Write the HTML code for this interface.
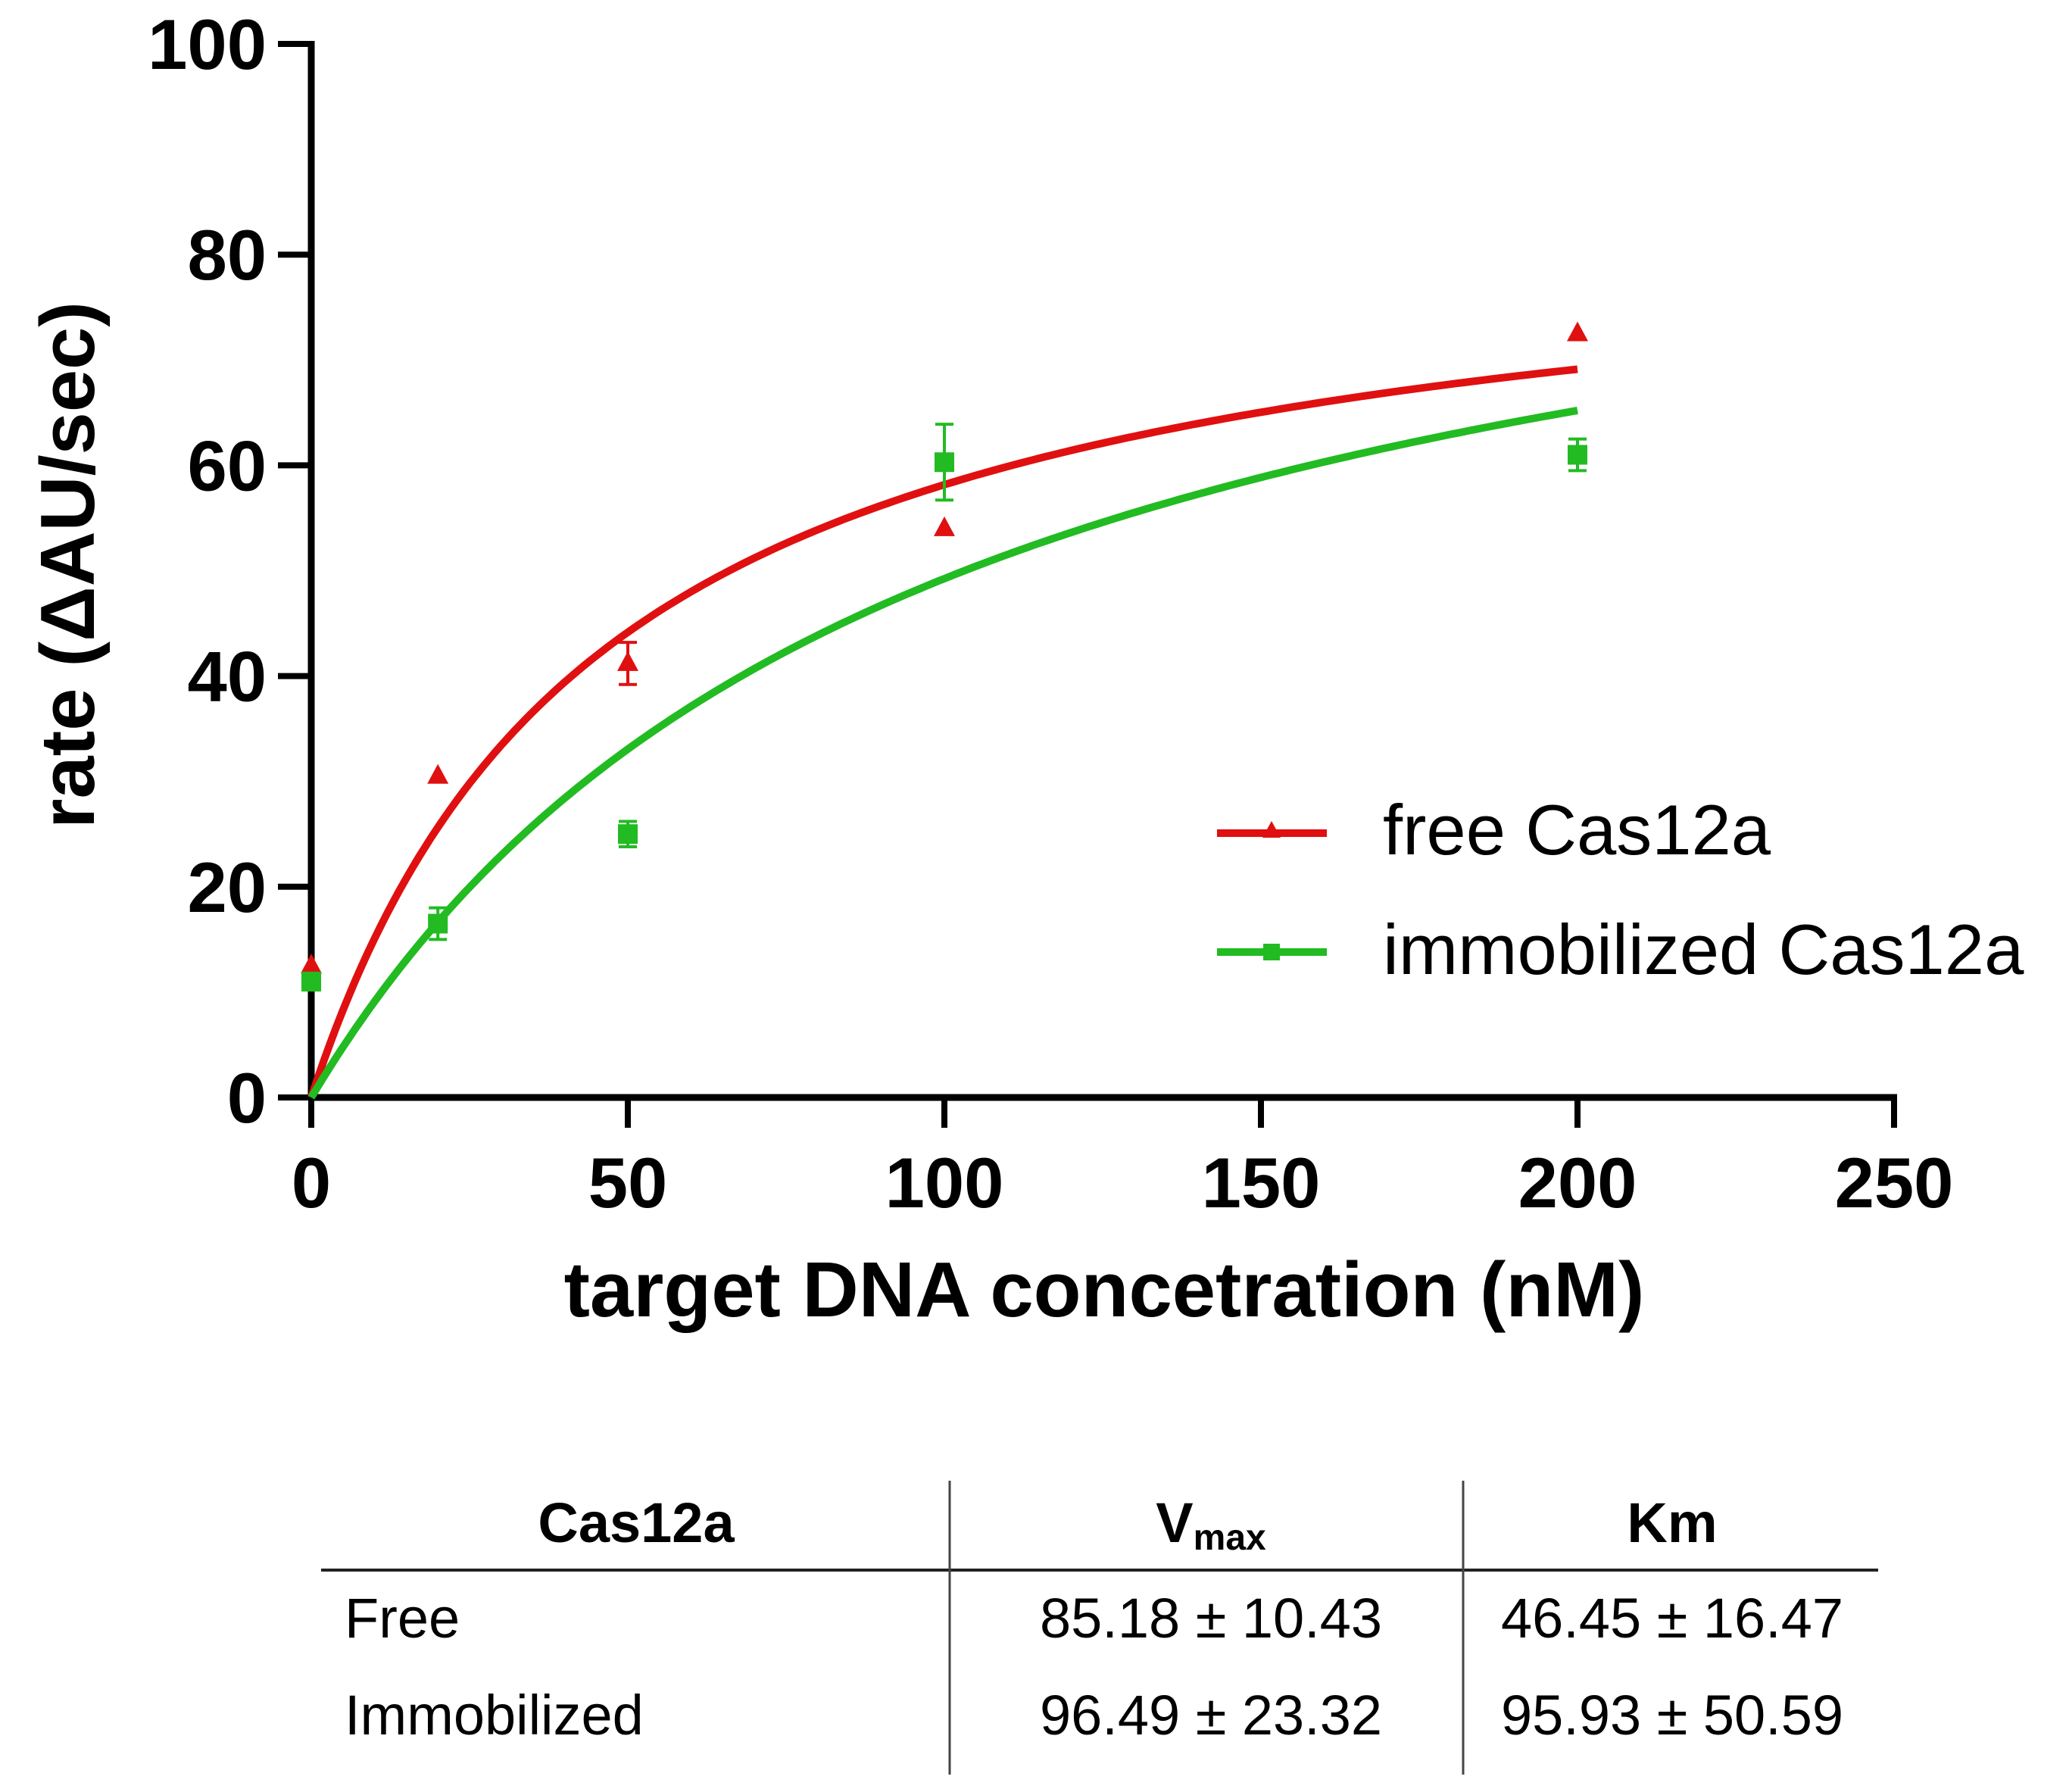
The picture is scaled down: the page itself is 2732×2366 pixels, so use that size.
<!DOCTYPE html>
<html><head><meta charset="utf-8"><style>
html,body{margin:0;padding:0;background:#fff}
svg{display:block}
text{font-family:"Liberation Sans",Arial,sans-serif}
</style></head><body>
<svg id="chart" width="2732" height="2366" viewBox="0 0 2732 2366" xmlns="http://www.w3.org/2000/svg">
<g id="axes"></g>
<g id="curves"></g>
<g id="points"></g>
<text x="1458" y="1738" font-size="103" font-weight="bold" text-anchor="middle">target DNA concetration (nM)</text>
<text transform="translate(124,746) rotate(-90)" font-size="101" font-weight="bold" text-anchor="middle">rate (ΔAU/sec)</text>
<g>
  <g>
    <line x1="1607" y1="1100" x2="1752" y2="1100" stroke="#e01010" stroke-width="10"/>
    <polygon points="1679,1084 1691,1106 1667,1106" fill="#e01010"/>
    <text x="1826" y="1128" font-size="94">free Cas12a</text>
  </g>
  <g>
    <line x1="1607" y1="1257" x2="1752" y2="1257" stroke="#22bb22" stroke-width="10"/>
    <rect x="1668" y="1246" width="22" height="22" fill="#22bb22"/>
    <text x="1826" y="1286" font-size="94">immobilized Cas12a</text>
  </g>
</g>
<g font-size="74">
  <line x1="424" y1="2084" x2="2480" y2="2084" stroke="#222" stroke-width="4" transform="translate(0,-11)"/>
  <line x1="1254" y1="1955" x2="1254" y2="2343" stroke="#444" stroke-width="3"/>
  <line x1="1932" y1="1955" x2="1932" y2="2343" stroke="#444" stroke-width="3"/>
  <text x="840" y="2048" font-weight="bold" text-anchor="middle" transform="translate(0,-12)">Cas12a</text>
  <text x="1599" y="2036" font-weight="bold" text-anchor="middle">V<tspan font-size="48" dy="10">max</tspan></text>
  <text x="2208" y="2036" font-weight="bold" text-anchor="middle">Km</text>
  <text x="455" y="2162">Free</text>
  <text x="1599" y="2162" text-anchor="middle">85.18 ± 10.43</text>
  <text x="2208" y="2162" text-anchor="middle">46.45 ± 16.47</text>
  <text x="455" y="2290">Immobilized</text>
  <text x="1599" y="2290" text-anchor="middle">96.49 ± 23.32</text>
  <text x="2208" y="2290" text-anchor="middle">95.93 ± 50.59</text>
</g>
</svg>
<script>
const xTicks = [0, 50, 100, 150, 200, 250];
const yTicks = [0, 20, 40, 60, 80, 100];
const concentrations = [0, 20, 50, 100, 200];
const freeRates = [12.5, 30.5, 41.2, 54, 72.5];
const freeErr = [0, 0, 2, 0, 0];
const immRates = [11, 16.5, 25, 60.3, 61];
const immErr = [0.8, 1.5, 1.2, 3.6, 1.5];
const freeFit = [85.18, 46.45];
const immFit = [96.49, 95.93];

const NS = "http://www.w3.org/2000/svg";
const X0 = 411, X1 = 2501, Y0 = 1449, Y1 = 58;
function sx(v){ return X0 + (v - 0) / 250 * (X1 - X0); }
function sy(v){ return Y0 - v / 100 * (Y0 - Y1); }
function mk(tag, attrs, parent){
  const e = document.createElementNS(NS, tag);
  for (const k in attrs) e.setAttribute(k, attrs[k]);
  parent.appendChild(e); return e;
}
const axes = document.getElementById('axes');
let el = mk('line', {x1:X0, y1:Y0, x2:X0, y2:Y1-4, stroke:'#000','stroke-width':9}, axes);


el = mk('line', {x1:X0-4, y1:Y0, x2:X1+4, y2:Y0, stroke:'#000','stroke-width':9}, axes);


yTicks.forEach(t => {
  const y = sy(t);
  const tk = mk('line', {x1:X0-44, y1:y, x2:X0, y2:y, stroke:'#000','stroke-width':8}, axes);
  
  
  const lb = mk('text', {x:352, y:y+33, 'font-size':94, 'font-weight':'bold', 'text-anchor':'end'}, axes);
  lb.textContent = t;
  
  
});
xTicks.forEach(t => {
  const x = sx(t);
  const tk = mk('line', {x1:x, y1:Y0, x2:x, y2:Y0+40, stroke:'#000','stroke-width':8}, axes);
  
  
  const lb = mk('text', {x:x, y:1594, 'font-size':94, 'font-weight':'bold', 'text-anchor':'middle'}, axes);
  lb.textContent = t;
  
  
});
const curves = document.getElementById('curves');
function curve(fit, color, name){
  let d = '';
  for (let i = 0; i <= 200; i++){
    const c = i;
    const v = fit[0] * c / (fit[1] + c);
    d += (i ? 'L' : 'M') + sx(c).toFixed(1) + ',' + sy(v).toFixed(1);
  }
  const p = mk('path', {d:d, fill:'none', stroke:color, 'stroke-width':10}, curves);
  
  
}
curve(freeFit, '#e01010', 'free-fit-curve');
curve(immFit, '#22bb22', 'immobilized-fit-curve');
const pts = document.getElementById('points');
function errbar(x, v, e, color){
  if (!e) return;
  const g = mk('g', {stroke:color, 'stroke-width':4}, pts);
  
  
  mk('line', {x1:x, y1:sy(v+e), x2:x, y2:sy(v-e)}, g);
  mk('line', {x1:x-12, y1:sy(v+e), x2:x+12, y2:sy(v+e)}, g);
  mk('line', {x1:x-12, y1:sy(v-e), x2:x+12, y2:sy(v-e)}, g);
}
concentrations.forEach((c, i) => {
  const x = sx(c);
  errbar(x, freeRates[i], freeErr[i], '#e01010');
  const y = sy(freeRates[i]);
  const t = mk('polygon', {points:`${x},${y-16} ${x+14},${y+10} ${x-14},${y+10}`, fill:'#e01010'}, pts);
  
  
});
concentrations.forEach((c, i) => {
  const x = sx(c);
  errbar(x, immRates[i], immErr[i], '#22bb22');
  const y = sy(immRates[i]);
  const r = mk('rect', {x:x-13, y:y-13, width:26, height:26, fill:'#22bb22'}, pts);
  
  
});
</script>
</body></html>
